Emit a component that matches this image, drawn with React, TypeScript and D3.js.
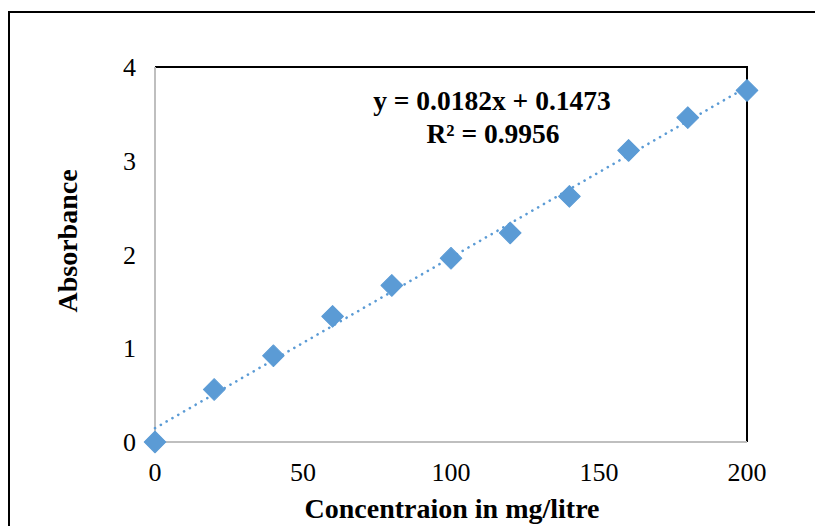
import React from 'react';
import * as d3 from 'd3';

const concentrations = [0, 20, 40, 60, 80, 100, 120, 140, 160, 180, 200];
const absorbance = [0.0, 0.56, 0.92, 1.34, 1.67, 1.96, 2.23, 2.62, 3.11, 3.46, 3.75];
const xTicks = [0, 50, 100, 150, 200];
const yTicks = [0, 1, 2, 3, 4];
const slope = 0.0182;
const intercept = 0.1473;

const WIDTH = 815;
const HEIGHT = 526;
const margin = { top: 67, right: 68, bottom: 84, left: 155 };
const blue = '#5B9BD5';
const font = '"Liberation Serif", "Times New Roman", serif';

const App = () => {
    const innerW = WIDTH - margin.left - margin.right;
    const innerH = HEIGHT - margin.top - margin.bottom;

    const xScale = d3.scaleLinear().domain([0, 200]).range([0, innerW]);
    const yScale = d3.scaleLinear().domain([0, 4]).range([innerH, 0]);

    const trend = d3.line<number>()
        .x(d => xScale(d))
        .y(d => yScale(slope * d + intercept));

    const marker = d3.symbol().type(d3.symbolSquare).size(235)();

    return (
        <svg width={WIDTH} height={HEIGHT} style={{ position: 'absolute', left: 0, top: 0 }}>
            <rect x={0} y={0} width={WIDTH} height={HEIGHT} fill="#fff" />
            {/* outer frame */}
            <path d={`M9,${HEIGHT + 5} L9,12 L${WIDTH + 5},12`} fill="none" stroke="#000" strokeWidth={2} />
            <g transform={`translate(${margin.left},${margin.top})`}>
                {/* top & right border */}
                <path d={`M0,0 L${innerW},0 L${innerW},${innerH}`} fill="none" stroke="#000" strokeWidth={2} />
                {/* axes */}
                <line x1={0} y1={0} x2={0} y2={innerH} stroke="#bfbfbf" strokeWidth={2} />
                <line x1={0} y1={innerH} x2={innerW} y2={innerH} stroke="#bfbfbf" strokeWidth={2} />

                {yTicks.map(t => (
                    <text key={`y${t}`} x={-19} y={yScale(t)} dy="0.35em" textAnchor="end"
                        fontFamily={font} fontSize={26} fill="#000">{t}</text>
                ))}
                {xTicks.map(t => (
                    <text key={`x${t}`} x={xScale(t)} y={innerH + 39} textAnchor="middle"
                        fontFamily={font} fontSize={26} fill="#000">{t}</text>
                ))}

                <path d={trend([0, 200]) || ''} fill="none" stroke={blue} strokeWidth={2.6}
                    strokeDasharray="0.1 6.6" strokeLinecap="round" />

                {concentrations.map((c, i) => (
                    <path key={c} d={marker || ''} fill={blue} stroke={blue} strokeWidth={1}
                        strokeLinejoin="round"
                        transform={`translate(${xScale(c)},${yScale(absorbance[i])}) rotate(45)`} />
                ))}

                <text x={337} y={43} textAnchor="middle" fontFamily={font} fontSize={27.5}
                    fontWeight="bold" fill="#000">y = 0.0182x + 0.1473</text>
                <text x={338} y={76} textAnchor="middle" fontFamily={font} fontSize={27.5}
                    fontWeight="bold" fill="#000">R² = 0.9956</text>
            </g>

            <text x={452} y={518} textAnchor="middle" fontFamily={font}
                fontSize={28} fontWeight="bold" fill="#000">Concentraion  in mg/litre</text>
            <text transform={`translate(77,${241}) rotate(-90)`} textAnchor="middle" fontFamily={font}
                fontSize={28} fontWeight="bold" fill="#000">Absorbance</text>
        </svg>
    );
};

export default App;
